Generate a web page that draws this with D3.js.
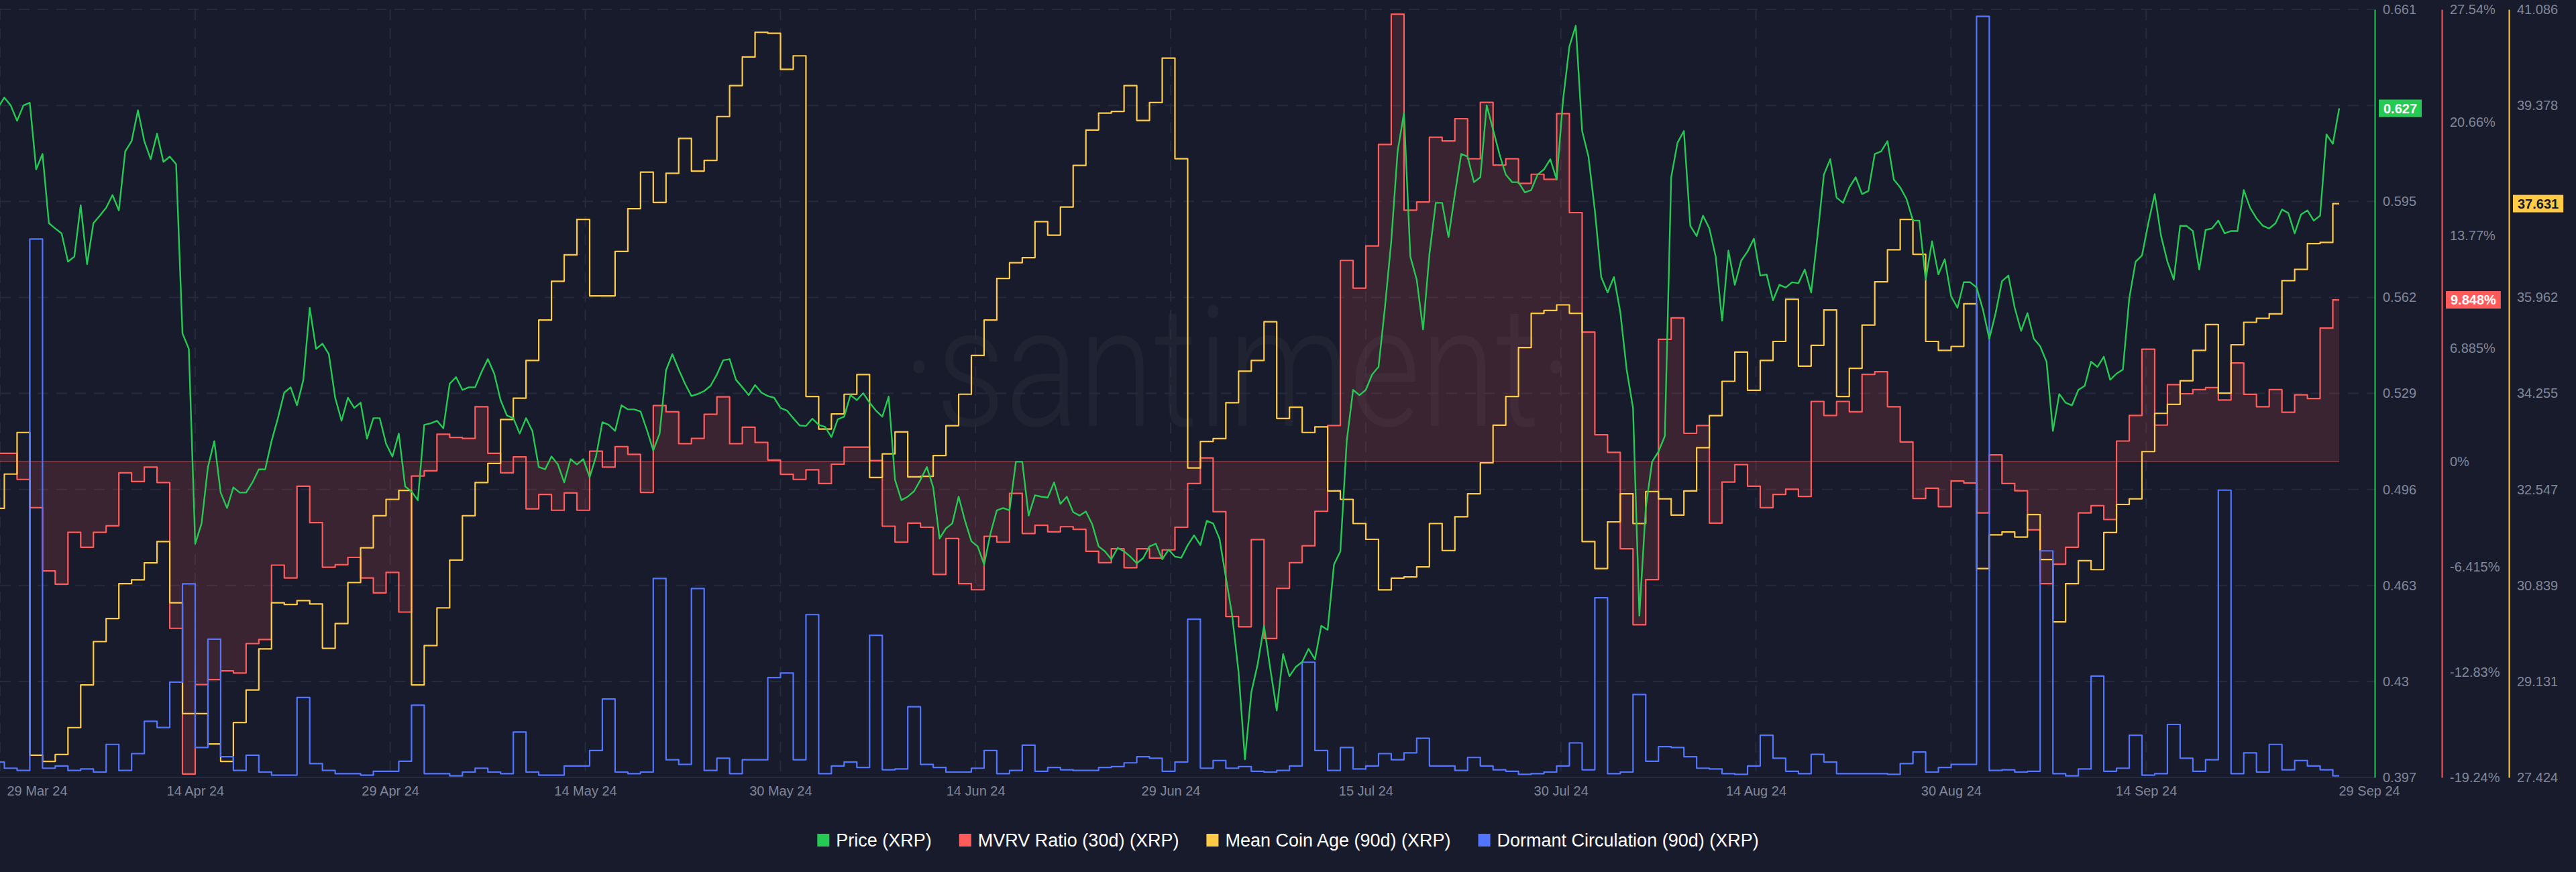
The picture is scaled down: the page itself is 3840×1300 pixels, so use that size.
<!DOCTYPE html>
<html>
<head>
<meta charset="utf-8">
<script src="https://cdn.jsdelivr.net/npm/d3@7"></script>
<style>
  html, body { margin: 0; padding: 0; background: #181B2B; }
  svg { display: block; }
</style>
</head>
<body>
<svg id="chart" width="3840" height="1300"></svg>
<script>
// ---------------- DATA ----------------
const startDate = "2024-03-29";   // first daily sample
const endDate = "2024-09-29";     // last daily sample

// Price (XRP), USD, one value every 12 hours from startDate
const priceValues = [
  0.6272, 0.6307, 0.6280, 0.6227, 0.6280, 0.6289, 0.6060, 0.6113, 0.5875, 0.5857,
  0.5840, 0.5743, 0.5760, 0.5937, 0.5734, 0.5875, 0.5901, 0.5928, 0.5972, 0.5919,
  0.6122, 0.6157, 0.6263, 0.6157, 0.6095, 0.6183, 0.6086, 0.6104, 0.6078, 0.5496,
  0.5443, 0.4773, 0.4843, 0.5037, 0.5126, 0.4949, 0.4896, 0.4967, 0.4949, 0.4949,
  0.4984, 0.5029, 0.5029, 0.5126, 0.5205, 0.5293, 0.5311, 0.5249, 0.5337, 0.5584,
  0.5443, 0.5461, 0.5425, 0.5275, 0.5196, 0.5275, 0.5240, 0.5258, 0.5134, 0.5205,
  0.5205, 0.5117, 0.5073, 0.5152, 0.4970, 0.4953, 0.4923, 0.5182, 0.5187, 0.5196,
  0.5170, 0.5323, 0.5346, 0.5302, 0.5311, 0.5311, 0.5363, 0.5408, 0.5358, 0.5267,
  0.5214, 0.5205, 0.5152, 0.5205, 0.5161, 0.5037, 0.5029, 0.5073, 0.5046, 0.4984,
  0.5064, 0.5046, 0.5064, 0.5002, 0.5073, 0.5191, 0.5182, 0.5161, 0.5249, 0.5235,
  0.5235, 0.5228, 0.5164, 0.5094, 0.5152, 0.5369, 0.5425, 0.5372, 0.5323, 0.5281,
  0.5288, 0.5298, 0.5316, 0.5355, 0.5404, 0.5408, 0.5337, 0.5311, 0.5284, 0.5319,
  0.5293, 0.5281, 0.5275, 0.5240, 0.5231, 0.5205, 0.5180, 0.5178, 0.5203, 0.5182,
  0.5175, 0.5140, 0.5201, 0.5210, 0.5284, 0.5267, 0.5291, 0.5258, 0.5231, 0.5210,
  0.5279, 0.4993, 0.4923, 0.4935, 0.4954, 0.4993, 0.5037, 0.4967, 0.4791, 0.4826,
  0.4843, 0.4935, 0.4852, 0.4782, 0.4764, 0.4702, 0.4808, 0.4888, 0.4896, 0.4888,
  0.5055, 0.5055, 0.4870, 0.4940, 0.4935, 0.4932, 0.4984, 0.4910, 0.4935, 0.4882,
  0.4870, 0.4884, 0.4840, 0.4764, 0.4747, 0.4720, 0.4759, 0.4747, 0.4729, 0.4706,
  0.4724, 0.4764, 0.4773, 0.4720, 0.4753, 0.4729, 0.4725, 0.4768, 0.4802, 0.4769,
  0.4852, 0.4843, 0.4791, 0.4658, 0.4526, 0.4332, 0.4032, 0.4262, 0.4359, 0.4491,
  0.4341, 0.4200, 0.4394, 0.4318, 0.4350, 0.4367, 0.4412, 0.4376, 0.4491, 0.4477,
  0.4702, 0.4747, 0.5126, 0.5302, 0.5284, 0.5302, 0.5355, 0.5381, 0.5584, 0.5813,
  0.6122, 0.6254, 0.5760, 0.5681, 0.5510, 0.5769, 0.5945, 0.5945, 0.5827, 0.5975,
  0.6113, 0.6104, 0.6016, 0.6033, 0.6280, 0.6197, 0.6113, 0.6042, 0.6016, 0.6016,
  0.5981, 0.5989, 0.6042, 0.6060, 0.6095, 0.6025, 0.6298, 0.6483, 0.6554, 0.6192,
  0.6104, 0.5919, 0.5690, 0.5637, 0.5690, 0.5570, 0.5372, 0.5240, 0.4526, 0.4896,
  0.5055, 0.5090, 0.5143, 0.6033, 0.6152, 0.6192, 0.5866, 0.5831, 0.5901, 0.5857,
  0.5760, 0.5540, 0.5781, 0.5663, 0.5746, 0.5778, 0.5822, 0.5695, 0.5699, 0.5610,
  0.5663, 0.5654, 0.5672, 0.5669, 0.5716, 0.5637, 0.5831, 0.6042, 0.6095, 0.5963,
  0.5945, 0.5998, 0.6033, 0.5975, 0.5986, 0.6113, 0.6122, 0.6157, 0.6025, 0.5998,
  0.5958, 0.5884, 0.5884, 0.5681, 0.5813, 0.5699, 0.5751, 0.5624, 0.5584, 0.5672,
  0.5672, 0.5654, 0.5578, 0.5478, 0.5566, 0.5676, 0.5695, 0.5584, 0.5505, 0.5566,
  0.5478, 0.5452, 0.5399, 0.5161, 0.5288, 0.5258, 0.5249, 0.5302, 0.5316, 0.5399,
  0.5381, 0.5416, 0.5337, 0.5358, 0.5372, 0.5616, 0.5743, 0.5764, 0.5875, 0.5975,
  0.5831, 0.5743, 0.5681, 0.5866, 0.5866, 0.5848, 0.5716, 0.5852, 0.5857, 0.5884,
  0.5840, 0.5848, 0.5848, 0.5989, 0.5928, 0.5892, 0.5866, 0.5857, 0.5875, 0.5922,
  0.5910, 0.5840, 0.5905, 0.5919, 0.5884, 0.5901, 0.6180, 0.6148, 0.6270
];

// MVRV Ratio (30d), %, daily
const mvrvValues = [
  0.5, 0.5, -1.09, -2.81, -6.66, -7.47, -4.31, -5.22, -4.31, -3.91,
  -0.69, -1.22, -0.34, -1.28, -10.16, -19.03, -13.59, -13.28, -12.75, -12.88,
  -11.09, -10.84, -6.31, -7.09, -1.5, -3.72, -6.44, -6.28, -5.84, -7.09,
  -8.0, -6.75, -9.17, -0.88, -0.56, 1.66, 1.47, 1.41, 3.34, 0.5,
  -0.69, 0.28, -2.88, -2.0, -2.97, -1.91, -2.97, 0.63, -0.34, 0.91,
  0.44, -1.88, 3.41, 3.03, 1.09, 1.41, 2.88, 3.94, 1.09, 2.09,
  1.16, 0.09, -0.78, -1.09, -0.5, -1.34, -0.16, 0.88, 0.88, 0.06,
  -3.94, -4.91, -3.75, -4.0, -6.88, -4.69, -7.44, -7.81, -4.56, -4.91,
  -1.94, -4.38, -3.88, -4.28, -3.97, -4.13, -5.47, -6.16, -5.31, -6.47,
  -5.31, -5.88, -5.38, -4.0, -1.34, 0.22, -3.06, -9.44, -10.06, -4.75,
  -10.78, -7.72, -6.16, -5.13, -3.03, 2.19, 12.25, 10.56, 13.13, 19.31,
  27.25, 15.31, 15.81, 19.75, 19.53, 20.88, 18.44, 21.88, 18.06, 18.44,
  16.94, 17.5, 17.19, 21.19, 15.16, 7.88, 1.63, 0.56, -5.31, -9.94,
  -7.19, 7.44, 8.75, 1.72, 2.19, -3.75, -1.25, -0.19, -1.5, -2.81,
  -2.0, -1.69, -2.13, 3.66, 2.81, 3.66, 3.03, 5.31, 5.47, 3.34,
  1.19, -2.25, -1.63, -2.75, -1.19, -1.31, -3.13, 0.41, -1.34, -1.78,
  -4.16, -7.44, -6.25, -5.22, -3.13, -2.69, -3.53, 1.25, 2.81, 6.84,
  2.22, 4.69, 4.13, 4.38, 4.5, 3.75, 6.0, 4.09, 3.34, 4.38,
  3.0, 4.06, 3.84, 8.13, 9.848
];

// Mean Coin Age (90d), days, daily
const meanCoinAgeValues = [
  32.21, 32.82, 33.56, 27.82, 27.71, 27.83, 28.31, 29.07, 29.84, 30.25,
  30.87, 30.94, 31.24, 31.62, 30.53, 28.56, 28.56, 28.02, 27.71, 28.40,
  28.98, 29.71, 30.53, 30.50, 30.57, 30.51, 29.72, 30.16, 30.89, 31.51,
  32.08, 32.37, 32.53, 29.07, 29.77, 30.44, 31.29, 32.08, 32.67, 33.01,
  33.79, 34.17, 34.84, 35.56, 36.25, 36.72, 37.35, 35.99, 35.99, 36.78,
  37.54, 38.19, 37.65, 38.17, 38.79, 38.21, 38.40, 39.18, 39.73, 40.24,
  40.68, 40.66, 40.02, 40.26, 34.20, 33.62, 33.89, 34.24, 34.59, 32.76,
  33.18, 33.57, 32.77, 32.78, 33.15, 33.68, 34.24, 34.93, 35.56, 36.30,
  36.58, 36.67, 37.31, 37.07, 37.57, 38.31, 38.94, 39.24, 39.27, 39.73,
  39.11, 39.43, 40.22, 38.43, 32.93, 33.40, 33.45, 34.09, 34.65, 34.84,
  35.53, 33.81, 34.01, 33.56, 33.66, 32.52, 32.37, 31.94, 31.66, 30.76,
  30.97, 30.99, 31.17, 31.94, 31.46, 32.06, 32.47, 33.02, 33.69, 34.20,
  35.07, 35.68, 35.73, 35.83, 35.68, 31.62, 31.14, 31.97, 32.47, 31.94,
  32.51, 32.38, 32.09, 32.52, 33.29, 33.86, 34.47, 34.99, 34.31, 34.84,
  35.18, 35.93, 34.74, 35.11, 35.74, 34.20, 34.70, 35.47, 36.24, 36.81,
  37.35, 36.73, 35.18, 35.02, 35.09, 35.85, 31.14, 31.74, 31.79, 31.70,
  32.10, 31.30, 30.19, 30.87, 31.28, 31.12, 31.78, 32.28, 32.38, 33.22,
  33.90, 34.06, 34.48, 35.02, 35.48, 34.26, 35.12, 35.52, 35.59, 35.67,
  36.26, 36.46, 36.92, 36.94, 37.631
];

// Dormant Circulation (90d), millions of XRP, daily
const dormantValues = [
  20, 12, 9, 701, 12, 15, 9, 11, 7, 43,
  9, 31, 73, 65, 124, 252, 39, 180, 27, 9,
  29, 7, 3, 3, 104, 18, 9, 5, 5, 3,
  8, 8, 21, 94, 5, 5, 2, 7, 12, 7,
  5, 59, 7, 3, 3, 15, 15, 35, 102, 7,
  5, 7, 259, 23, 17, 246, 9, 25, 5, 23,
  23, 130, 136, 23, 212, 5, 15, 20, 13, 185,
  10, 11, 92, 17, 13, 7, 7, 12, 35, 5,
  9, 42, 8, 13, 10, 9, 9, 13, 14, 19,
  27, 25, 8, 20, 206, 12, 22, 12, 14, 8,
  7, 9, 15, 150, 35, 9, 39, 11, 15, 31,
  23, 32, 51, 15, 15, 9, 26, 15, 10, 8,
  4, 5, 7, 15, 45, 10, 234, 5, 7, 108,
  21, 40, 39, 27, 12, 11, 5, 4, 15, 55,
  25, 8, 5, 30, 20, 5, 5, 5, 5, 4,
  18, 33, 7, 13, 17, 17, 991, 9, 10, 7,
  8, 295, 5, 2, 11, 132, 8, 12, 55, 3,
  5, 69, 25, 8, 23, 374, 5, 32, 7, 43,
  10, 22, 15, 10, 2
];

const priceTicks = [0.661, 0.628, 0.595, 0.562, 0.529, 0.496, 0.463, 0.43, 0.397];
const mvrvTicks = [27.54, 20.66, 13.77, 6.885, 0, -6.415, -12.83, -19.24];
const mvrvTickLabels = ["27.54%", "20.66%", "13.77%", "6.885%", "0%", "-6.415%", "-12.83%", "-19.24%"];
const mcaTicks = [41.086, 39.378, 37.67, 35.962, 34.255, 32.547, 30.839, 29.131, 27.424];
const xTickLabels = ["29 Mar 24", "14 Apr 24", "29 Apr 24", "14 May 24", "30 May 24", "14 Jun 24",
  "29 Jun 24", "15 Jul 24", "30 Jul 24", "14 Aug 24", "30 Aug 24", "14 Sep 24", "29 Sep 24"];
const seriesNames = ["Price (XRP)", "MVRV Ratio (30d) (XRP)", "Mean Coin Age (90d) (XRP)", "Dormant Circulation (90d) (XRP)"];
const lastPriceLabel = "0.627";
const lastMvrvLabel = "9.848%";
const lastMcaLabel = "37.631";

// ---------------- STYLE / LAYOUT ----------------
const W = 3840, H = 1300;
const BG = "#181B2B";
const C = { price: "#26C953", mvrv: "#FF5B5B", mca: "#FFCB47", dormant: "#5275FF" };
const GRID = "#262A3E";
const TICK = "#80879B";
const FONT = "'Liberation Sans', Arial, sans-serif";
const plotL = 0, plotR = 3540, plotT = 14, plotB = 1159;

const svg = d3.select("#chart");
svg.append("rect").attr("width", W).attr("height", H).attr("fill", BG);

const parse = d3.utcParse("%Y-%m-%d");
const t0 = parse(startDate), t1 = parse(endDate);
const days = mvrvValues.map((_, i) => d3.utcDay.offset(t0, i));
const priceDates = priceValues.map((_, j) => new Date(+t0 + j * 12 * 3600 * 1000));

const x = d3.scaleUtc().domain([t0, t1]).range([-3, 3487]);
const yPrice = d3.scaleLinear().domain([0.397, 0.661]).range([plotB, plotT]);
const yMvrv = d3.scaleLinear().domain([-19.24, 27.54]).range([plotB, plotT]);
const yMca = d3.scaleLinear().domain([27.424, 41.086]).range([plotB, plotT]);
const yDorm = d3.scaleLinear().domain([0, 1000]).range([plotB, plotT]);

// watermark
svg.append("text")
  .attr("x", 1345).attr("y", 635)
  .attr("textLength", 1000).attr("lengthAdjust", "spacingAndGlyphs")
  .style("font-family", "Roboto, 'Open Sans', sans-serif")
  .style("font-weight", 300)
  .style("font-size", "250px")
  .attr("fill", "#ffffff").attr("fill-opacity", 0.035)
  .text("·santiment·");

// horizontal grid (from price ticks)
const grid = svg.append("g");
grid.selectAll("line.h").data(priceTicks.slice(0, -1)).enter().append("line")
  .attr("x1", plotL).attr("x2", plotR)
  .attr("y1", d => yPrice(d)).attr("y2", d => yPrice(d))
  .attr("stroke", GRID).attr("stroke-width", 2).attr("stroke-dasharray", "16,12");

// x tick dates evenly spread over the visible span
const tickDates = xTickLabels.map((_, k) => x.invert(k * (3490 / 12)));
grid.selectAll("line.v").data(tickDates.slice(0, -1)).enter().append("line")
  .attr("x1", d => x(d)).attr("x2", d => x(d))
  .attr("y1", plotT).attr("y2", plotB)
  .attr("stroke", GRID).attr("stroke-width", 2).attr("stroke-dasharray", "16,12");

// bottom base line
svg.append("line").attr("x1", plotL).attr("x2", plotR).attr("y1", plotB).attr("y2", plotB)
  .attr("stroke", "#272B3F").attr("stroke-width", 2);

// clip
svg.append("clipPath").attr("id", "clip").append("rect")
  .attr("x", plotL).attr("y", 0).attr("width", plotR - plotL).attr("height", plotB + 2);
const plotG = svg.append("g").attr("clip-path", "url(#clip)");

const mvrvData = days.map((d, i) => ({ d, v: mvrvValues[i] }));
const mcaData = days.map((d, i) => ({ d, v: meanCoinAgeValues[i] }));
const dormData = days.map((d, i) => ({ d, v: dormantValues[i] }));
const priceData = priceDates.map((d, j) => ({ d, v: priceValues[j] }));

// MVRV area to zero
plotG.append("path").datum(mvrvData)
  .attr("d", d3.area().x(p => x(p.d)).y0(yMvrv(0)).y1(p => yMvrv(p.v)).curve(d3.curveStep))
  .attr("fill", C.mvrv).attr("fill-opacity", 0.15);
plotG.append("line")
  .attr("x1", x(t0)).attr("x2", x(t1)).attr("y1", yMvrv(0)).attr("y2", yMvrv(0))
  .attr("stroke", C.mvrv).attr("stroke-opacity", 0.55).attr("stroke-width", 1.2);

function stepLine(data, yS, color, w) {
  plotG.append("path").datum(data)
    .attr("d", d3.line().x(p => x(p.d)).y(p => yS(p.v)).curve(d3.curveStep))
    .attr("fill", "none").attr("stroke", color).attr("stroke-width", w)
    .attr("stroke-linejoin", "round");
}
stepLine(mvrvData, yMvrv, C.mvrv, 2.2);
stepLine(mcaData, yMca, C.mca, 2.2);
stepLine(dormData, yDorm, C.dormant, 2.2);

plotG.append("path").datum(priceData)
  .attr("d", d3.line().x(p => x(p.d)).y(p => yPrice(p.v)).curve(d3.curveLinear))
  .attr("fill", "none").attr("stroke", C.price).attr("stroke-width", 2.4)
  .attr("stroke-linejoin", "round");

// ---------------- AXES ----------------
function styleAxis(g, color) {
  g.select(".domain").attr("stroke", color).attr("stroke-width", 2);
  g.selectAll(".tick line").remove();
  g.selectAll(".tick text").attr("fill", TICK).style("font-family", FONT).style("font-size", "20px");
}
const badgeY = {
  price: yPrice(priceValues[priceValues.length - 1]),
  mvrv: yMvrv(mvrvValues[mvrvValues.length - 1]),
  mca: yMca(meanCoinAgeValues[meanCoinAgeValues.length - 1])
};

const gP = svg.append("g").attr("transform", `translate(${plotR},0)`)
  .call(d3.axisRight(yPrice).tickValues(priceTicks).tickSize(0).tickSizeOuter(0).tickPadding(12)
    .tickFormat(d3.format("")));
styleAxis(gP, C.price);
gP.selectAll(".tick").filter(d => Math.abs(yPrice(d) - badgeY.price) < 24).remove();

const gM = svg.append("g").attr("transform", `translate(${plotR + 100},0)`)
  .call(d3.axisRight(yMvrv).tickValues(mvrvTicks).tickSize(0).tickSizeOuter(0).tickPadding(12)
    .tickFormat((d, i) => mvrvTickLabels[i]));
styleAxis(gM, C.mvrv);
gM.selectAll(".tick").filter(d => Math.abs(yMvrv(d) - badgeY.mvrv) < 24).remove();

const gA = svg.append("g").attr("transform", `translate(${plotR + 200},0)`)
  .call(d3.axisRight(yMca).tickValues(mcaTicks).tickSize(0).tickSizeOuter(0).tickPadding(12)
    .tickFormat(d => d3.format(".3f")(d).replace(/0+$/, "").replace(/\.$/, "")));
styleAxis(gA, C.mca);
gA.selectAll(".tick").filter(d => Math.abs(yMca(d) - badgeY.mca) < 24).remove();

// badges
function badge(x0, y, text, bg, fg) {
  const g = svg.append("g");
  const t = g.append("text").attr("x", x0 + 7).attr("y", y).attr("dy", "0.36em")
    .style("font-family", FONT).style("font-size", "20px").style("font-weight", "bold")
    .attr("fill", fg).text(text);
  const w = t.node().getComputedTextLength() + 14;
  g.insert("rect", "text").attr("x", x0).attr("y", y - 13).attr("width", w).attr("height", 26).attr("fill", bg);
}
badge(plotR + 6, badgeY.price, lastPriceLabel, C.price, "#ffffff");
badge(plotR + 106, badgeY.mvrv, lastMvrvLabel, C.mvrv, "#ffffff");
badge(plotR + 206, badgeY.mca, lastMcaLabel, C.mca, "#181B2B");

// x axis
const gX = svg.append("g").attr("transform", `translate(0,${plotB})`)
  .call(d3.axisBottom(x).tickValues(tickDates).tickSize(0).tickPadding(13)
    .tickFormat((d, i) => xTickLabels[i]));
gX.select(".domain").remove();
gX.selectAll(".tick text").attr("fill", TICK).style("font-family", FONT).style("font-size", "20px");
const xTicks = gX.selectAll(".tick").nodes();
d3.select(xTicks[0]).select("text").attr("text-anchor", "start").attr("x", 10 - x(tickDates[0]));
d3.select(xTicks[xTicks.length - 1]).select("text").attr("text-anchor", "start").attr("x", -4);

// ---------------- LEGEND ----------------
const legendColors = [C.price, C.mvrv, C.mca, C.dormant];
const lg = svg.append("g");
let cursor = 0;
const items = seriesNames.map((name, i) => {
  const g = lg.append("g");
  g.append("rect").attr("x", 0).attr("y", -9).attr("width", 18).attr("height", 19).attr("fill", legendColors[i]);
  const t = g.append("text").attr("x", 28).attr("y", 0).attr("dy", "0.36em")
    .style("font-family", FONT).style("font-size", "27px").attr("fill", "#ffffff").text(name);
  const w = 28 + t.node().getComputedTextLength();
  g.attr("transform", `translate(${cursor},0)`);
  cursor += w + 41;
  return g;
});
const totalW = cursor - 41;
lg.attr("transform", `translate(${(W - totalW) / 2},1252)`);
</script>
</body>
</html>
